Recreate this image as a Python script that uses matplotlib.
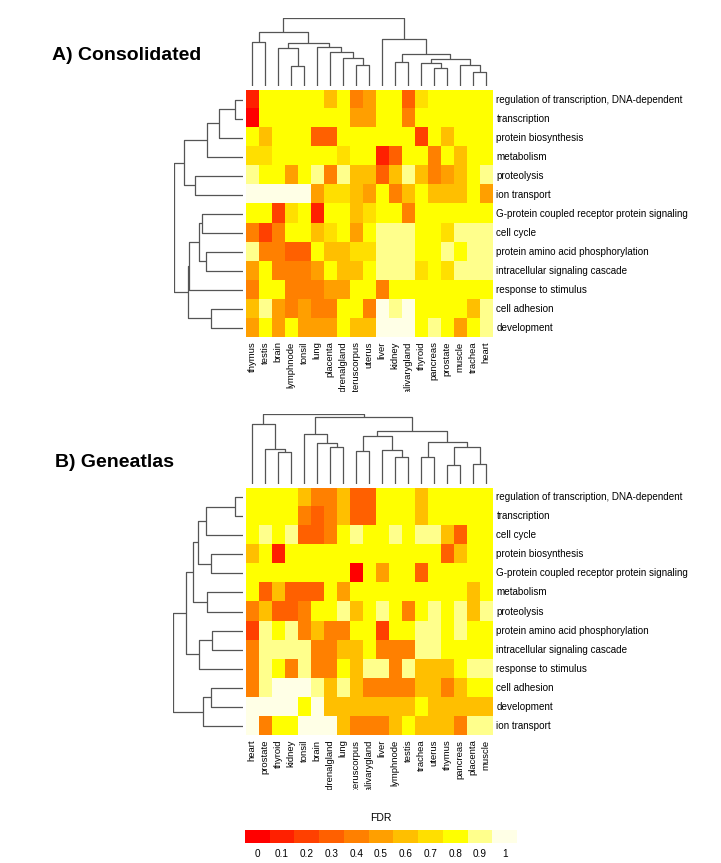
import numpy as np
import matplotlib
matplotlib.use("Agg")
import matplotlib.pyplot as plt
from matplotlib.colors import ListedColormap, BoundaryNorm

plt.rcParams['font.family'] = ['Liberation Sans', 'DejaVu Sans']

# ---- data -------------------------------------------------------------
cols_a = ['thymus', 'testis', 'brain', 'lymphnode', 'tonsil', 'lung', 'placenta',
          'adrenalgland', 'uteruscorpus', 'uterus', 'liver', 'kidney', 'salivarygland',
          'thyroid', 'pancreas', 'prostate', 'muscle', 'trachea', 'heart']
rows_a = ['regulation of transcription, DNA-dependent', 'transcription',
          'protein biosynthesis', 'metabolism', 'proteolysis', 'ion transport',
          'G-protein coupled receptor protein signaling', 'cell cycle',
          'protein amino acid phosphorylation', 'intracellular signaling cascade',
          'response to stimulus', 'cell adhesion', 'development']
fdr_a = [
    [0.1, 0.8, 0.8, 0.8, 0.8, 0.8, 0.6, 0.8, 0.4, 0.5, 0.8, 0.8, 0.3, 0.7, 0.8, 0.8, 0.8, 0.8, 0.8],
    [0.0, 0.8, 0.8, 0.8, 0.8, 0.8, 0.8, 0.8, 0.5, 0.5, 0.8, 0.8, 0.4, 0.8, 0.8, 0.8, 0.8, 0.8, 0.8],
    [0.8, 0.6, 0.8, 0.8, 0.8, 0.3, 0.3, 0.8, 0.8, 0.8, 0.8, 0.8, 0.8, 0.2, 0.8, 0.6, 0.8, 0.8, 0.8],
    [0.7, 0.7, 0.8, 0.8, 0.8, 0.8, 0.8, 0.7, 0.8, 0.8, 0.1, 0.3, 0.8, 0.8, 0.4, 0.8, 0.6, 0.8, 0.8],
    [0.9, 0.8, 0.8, 0.5, 0.8, 0.9, 0.4, 0.9, 0.6, 0.6, 0.3, 0.6, 0.9, 0.6, 0.4, 0.5, 0.6, 0.8, 0.9],
    [1.0, 1.0, 1.0, 1.0, 1.0, 0.5, 0.7, 0.7, 0.6, 0.5, 0.8, 0.4, 0.6, 0.8, 0.6, 0.6, 0.6, 0.8, 0.5],
    [0.8, 0.8, 0.2, 0.7, 0.8, 0.1, 0.8, 0.8, 0.6, 0.7, 0.8, 0.8, 0.4, 0.8, 0.8, 0.8, 0.8, 0.8, 0.8],
    [0.4, 0.2, 0.4, 0.8, 0.8, 0.6, 0.7, 0.8, 0.5, 0.8, 0.9, 0.9, 0.9, 0.8, 0.8, 0.7, 0.9, 0.9, 0.9],
    [0.9, 0.4, 0.4, 0.3, 0.3, 0.8, 0.6, 0.6, 0.7, 0.7, 0.9, 0.9, 0.9, 0.8, 0.8, 0.9, 0.8, 0.9, 0.9],
    [0.5, 0.8, 0.4, 0.4, 0.4, 0.5, 0.8, 0.6, 0.6, 0.8, 0.9, 0.9, 0.9, 0.7, 0.8, 0.7, 0.9, 0.9, 0.9],
    [0.4, 0.8, 0.8, 0.4, 0.4, 0.4, 0.5, 0.5, 0.8, 0.8, 0.4, 0.8, 0.8, 0.8, 0.8, 0.8, 0.8, 0.8, 0.8],
    [0.6, 0.9, 0.5, 0.4, 0.5, 0.4, 0.4, 0.8, 0.8, 0.4, 1.0, 0.9, 1.0, 0.8, 0.8, 0.8, 0.8, 0.6, 0.9],
    [0.5, 0.8, 0.5, 0.8, 0.5, 0.5, 0.5, 0.8, 0.6, 0.6, 1.0, 1.0, 1.0, 0.8, 0.9, 0.8, 0.5, 0.8, 0.9],
]
# merges: (child, child, height); ids >= n are earlier merges
col_tree_a = [(0, 1, 135), (3, 4, 62), (2, 20, 117), (8, 9, 65), (7, 22, 87), (6, 23, 105),
              (5, 24, 120), (21, 25, 130), (19, 26, 163), (14, 15, 55), (13, 28, 72),
              (17, 18, 43), (16, 30, 65), (29, 31, 83), (11, 12, 75), (33, 32, 97),
              (10, 34, 143), (27, 35, 207)]
row_tree_a = [(0, 1, 25), (13, 2, 77), (14, 3, 115), (4, 5, 153), (15, 16, 185),
              (6, 7, 128), (8, 9, 117), (18, 19, 138), (20, 10, 172), (11, 12, 100),
              (21, 22, 175), (17, 23, 217)]

cols_b = ['heart', 'prostate', 'thyroid', 'kidney', 'tonsil', 'brain', 'adrenalgland',
          'lung', 'uteruscorpus', 'salivarygland', 'liver', 'lymphnode', 'testis',
          'trachea', 'uterus', 'thymus', 'pancreas', 'placenta', 'muscle']
rows_b = ['regulation of transcription, DNA-dependent', 'transcription', 'cell cycle',
          'protein biosynthesis', 'G-protein coupled receptor protein signaling',
          'metabolism', 'proteolysis', 'protein amino acid phosphorylation',
          'intracellular signaling cascade', 'response to stimulus', 'cell adhesion',
          'development', 'ion transport']
fdr_b = [
    [0.8, 0.8, 0.8, 0.8, 0.6, 0.4, 0.4, 0.6, 0.3, 0.3, 0.8, 0.8, 0.8, 0.6, 0.8, 0.8, 0.8, 0.8, 0.8],
    [0.8, 0.8, 0.8, 0.8, 0.4, 0.3, 0.4, 0.6, 0.3, 0.3, 0.8, 0.8, 0.8, 0.6, 0.8, 0.8, 0.8, 0.8, 0.8],
    [0.8, 0.9, 0.8, 0.9, 0.3, 0.3, 0.4, 0.8, 0.9, 0.8, 0.8, 0.9, 0.8, 0.9, 0.9, 0.6, 0.3, 0.8, 0.8],
    [0.6, 0.8, 0.1, 0.8, 0.8, 0.8, 0.8, 0.8, 0.8, 0.8, 0.8, 0.8, 0.8, 0.8, 0.8, 0.3, 0.6, 0.8, 0.8],
    [0.8, 0.8, 0.8, 0.8, 0.8, 0.8, 0.8, 0.8, 0.0, 0.8, 0.5, 0.8, 0.8, 0.3, 0.8, 0.8, 0.8, 0.8, 0.8],
    [0.8, 0.3, 0.6, 0.3, 0.3, 0.3, 0.8, 0.5, 0.8, 0.8, 0.8, 0.8, 0.8, 0.8, 0.8, 0.8, 0.8, 0.6, 0.8],
    [0.4, 0.6, 0.3, 0.3, 0.4, 0.8, 0.8, 0.9, 0.6, 0.8, 0.9, 0.8, 0.4, 0.8, 0.9, 0.8, 0.9, 0.6, 0.9],
    [0.2, 0.9, 0.8, 0.9, 0.4, 0.6, 0.4, 0.4, 0.8, 0.8, 0.2, 0.8, 0.8, 0.9, 0.9, 0.8, 0.9, 0.8, 0.8],
    [0.4, 0.9, 0.9, 0.9, 0.9, 0.4, 0.4, 0.6, 0.6, 0.8, 0.4, 0.4, 0.4, 0.9, 0.9, 0.8, 0.8, 0.8, 0.8],
    [0.4, 0.9, 0.8, 0.4, 0.9, 0.4, 0.4, 0.8, 0.6, 0.9, 0.9, 0.4, 0.9, 0.6, 0.6, 0.6, 0.8, 0.9, 0.9],
    [0.4, 0.9, 1.0, 1.0, 1.0, 0.9, 0.6, 0.9, 0.6, 0.4, 0.4, 0.4, 0.4, 0.6, 0.6, 0.4, 0.6, 0.8, 0.8],
    [1.0, 1.0, 1.0, 1.0, 0.8, 1.0, 0.6, 0.6, 0.6, 0.6, 0.6, 0.6, 0.6, 0.8, 0.6, 0.6, 0.6, 0.6, 0.6],
    [1.0, 0.4, 0.8, 0.8, 1.0, 1.0, 1.0, 0.6, 0.4, 0.4, 0.4, 0.6, 0.8, 0.6, 0.6, 0.6, 0.4, 0.9, 0.9],
]
col_tree_b = [(2, 3, 95), (1, 19, 104), (0, 20, 180), (6, 7, 112), (5, 22, 124), (4, 23, 149),
              (8, 9, 99), (11, 12, 80), (10, 26, 102), (25, 27, 144), (13, 14, 80),
              (15, 16, 57), (17, 18, 60), (30, 31, 112), (29, 32, 125), (28, 33, 159),
              (24, 34, 200), (21, 35, 210)]
row_tree_b = [(0, 1, 25), (13, 2, 117), (3, 4, 102), (14, 15, 143), (5, 6, 115),
              (16, 17, 157), (7, 8, 97), (19, 9, 140), (18, 20, 180), (10, 11, 102),
              (22, 12, 125), (21, 23, 220)]

fdr_ticks = [0, 0.1, 0.2, 0.3, 0.4, 0.5, 0.6, 0.7, 0.8, 0.9, 1]

# ---- style ------------------------------------------------------------
heat = ['#FF0000', '#FF2000', '#FF4000', '#FF6000', '#FF8000', '#FF9F00',
        '#FFBF00', '#FFDF00', '#FFFF00', '#FFFF8C', '#FFFFE6']
cmap = ListedColormap(heat)
norm = BoundaryNorm(np.linspace(-0.05, 1.05, 12), cmap.N)
LINE = '#555555'
ROW_FS = 7.1
COL_FS = 6.8

W, H = 721, 863
fig = plt.figure(figsize=(W / 100, H / 100), dpi=100)


def px_axes(left, top, right, bottom):
    ax = fig.add_axes([left / W, 1 - bottom / H, (right - left) / W, (bottom - top) / H])
    ax.set_axis_off()
    return ax


def dendro(ax, tree, n, side):
    pos = [i + 0.5 for i in range(n)]
    hgt = [0.0] * n
    for a, b, h in tree:
        xs = [pos[a], pos[a], pos[b], pos[b]]
        ys = [hgt[a], h, h, hgt[b]]
        if side == 'top':
            ax.plot(xs, ys, color=LINE, lw=0.9, solid_capstyle='butt')
        else:
            ax.plot(ys, xs, color=LINE, lw=0.9, solid_capstyle='butt')
        pos.append((pos[a] + pos[b]) / 2)
        hgt.append(h)
    top = max(hgt)
    if side == 'top':
        ax.set_xlim(0, n)
        ax.set_ylim(0, top)
    else:
        ax.set_ylim(n, 0)
        ax.set_xlim(top, 0)


def panel(title, tx, ty, fdr, rows, cols, col_tree, row_tree, top, bottom, ctop, rleft, lab_bottom):
    left, right = 245.5, 492.5
    data = np.array(fdr)
    nr, nc = data.shape
    fig.text(tx / W, 1 - ty / H, title, fontsize=14, fontweight='bold', va='center')

    hm = px_axes(left, top, right, bottom)
    hm.imshow(data, cmap=cmap, norm=norm, aspect='auto', interpolation='nearest',
              extent=(0, nc, nr, 0))
    for i, r in enumerate(rows):
        hm.text(nc + 0.3, i + 0.5, r, fontsize=ROW_FS, va='center', ha='left', clip_on=False)

    # column names, cut off at the lower margin like the original
    lab = px_axes(left, bottom + 4, right, lab_bottom)
    lab.set_xlim(0, nc)
    lab.set_ylim(0, 1)
    for j, c in enumerate(cols):
        lab.text(j + 0.5, 1, c, fontsize=COL_FS, rotation=90, ha='center', va='top', clip_on=True)

    cd = px_axes(left, ctop, right, top - 3.5)
    dendro(cd, col_tree, nc, 'top')
    rd = px_axes(rleft, top, left - 2.5, bottom)
    dendro(rd, row_tree, nr, 'left')


panel('A) Consolidated', 52, 55, fdr_a, rows_a, cols_a, col_tree_a, row_tree_a,
      90, 337.5, 17.7, 174.3, 392)
panel('B) Geneatlas', 55, 462, fdr_b, rows_b, cols_b, col_tree_b, row_tree_b,
      487.5, 735.5, 414, 173.3, 790)

# colour key
cb = px_axes(245, 830, 517, 843)
cb.pcolormesh(np.arange(len(fdr_ticks) + 1), [0, 1], np.array([fdr_ticks]), cmap=cmap, norm=norm)
cb.set_xlim(0, len(fdr_ticks))
cb.set_ylim(0, 1)
for k, t in enumerate(fdr_ticks):
    cb.text(k + 0.5, -0.45, f'{t:g}', fontsize=7.2, ha='center', va='top')
cb.text(len(fdr_ticks) / 2, 1.55, 'FDR', fontsize=7.5, ha='center', va='bottom')

fig.savefig('out.png', dpi=100)
